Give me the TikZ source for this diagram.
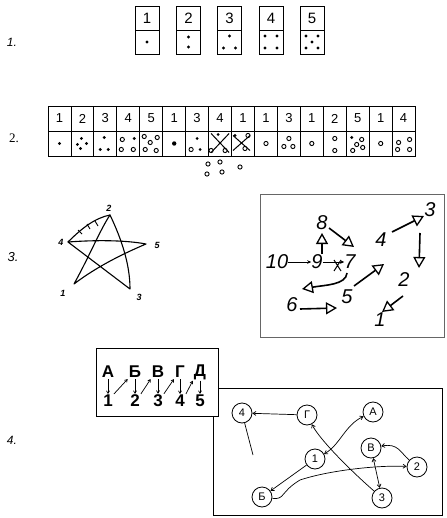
\documentclass[tikz,border=0pt]{standalone}
\usepackage{fontspec}
\setmainfont{Liberation Sans}
\newfontfamily\serifnum{Liberation Serif}
\usetikzlibrary{arrows.meta}
\newcommand\fdt[1]{\fill #1 circle (1.6);}
\newcommand\odt[1]{\draw[line width=0.9pt] #1 circle (2.1);}
\begin{document}
\begin{tikzpicture}[x=1pt,y=-1pt,
  dom/.style={draw,line width=0.9pt,minimum width=24pt,minimum height=24pt,inner sep=0pt,font=\fontsize{15}{15}\selectfont},
  cell/.style={draw,line width=0.8pt,minimum width=22.94pt,minimum height=25pt,inner sep=0pt,font=\fontsize{13}{13}\selectfont},
  seclab/.style={font=\fontsize{12}{12}\selectfont\itshape},
  starlab/.style={font=\fontsize{9}{9}\selectfont\bfseries\itshape,inner sep=0pt},
  hand/.style={font=\fontsize{20}{20}\selectfont\itshape,inner sep=0pt},
  harr/.style={line width=1.6pt,-{Triangle[open,length=11pt,width=12pt,line width=1.3pt]}},
  thinarr/.style={line width=0.8pt,-{Stealth[length=4pt,width=3.5pt]}},
  cyr/.style={font=\fontsize{17}{17}\selectfont\bfseries,inner sep=1pt},
  sarr/.style={line width=0.7pt,-{Straight Barb[length=2.5pt,width=3pt]}},
  circ/.style={circle,draw,line width=0.8pt,minimum size=20pt,inner sep=0pt,font=\fontsize{11}{11}\selectfont,fill=white},
  carr/.style={line width=0.7pt,-{Straight Barb[length=3pt,width=4pt]}},
  carrb/.style={line width=0.7pt,{Straight Barb[length=3pt,width=4pt]}-{Straight Barb[length=3pt,width=4pt]}},
]
\useasboundingbox (0,0) rectangle (446,518);

% ---------- section labels
\node[seclab] (lab1) at (12,42) {1.};
\node[font=\fontsize{13}{13}\selectfont\serifnum] (lab2) at (14,138) {2.};
\node[seclab,font=\fontsize{13}{13}\selectfont\itshape] (lab3) at (13,257) {3.};
\node[seclab] (lab4) at (12,440) {4.};

% ---------- 1. dominoes
\foreach \x/\n in {147/1,188.5/2,229.5/3,271/4,312/5} {
  \node[dom] (dt\n) at (\x,18) {\n};
  \node[dom] (db\n) at (\x,42) {};
}
\fdt{(147,42)}
\fdt{(188.5,37)}\fdt{(188.5,47)}
\fdt{(229.5,36)}\fdt{(223.5,48)}\fdt{(235.5,48)}
\fdt{(265,36)}\fdt{(277,36)}\fdt{(265,48)}\fdt{(277,48)}
\fdt{(306,36)}\fdt{(318,36)}\fdt{(312,42)}\fdt{(306,48)}\fdt{(318,48)}

% ---------- 2. strip
\foreach \n [count=\i from 0] in {1,2,3,4,5,1,3,4,1,1,3,1,2,5,1,4} {
  \node[cell] (st\i) at ({48+22.94*(\i+0.5)},118.5) {\n};
  \node[cell] (sb\i) at ({48+22.94*(\i+0.5)},143.5) {};
}
\begin{scope}[shift={(59.5,143.5)}]\fdt{(0,0)}\end{scope}
\begin{scope}[shift={(82.4,143.5)}]\fdt{(-1,-5)}\fdt{(-5,1)}\fdt{(4,0)}\fdt{(-2,5)}\end{scope}
\begin{scope}[shift={(105.3,143.5)}]\fdt{(-1,-6)}\fdt{(-5,6)}\fdt{(3,6)}\end{scope}
\begin{scope}[shift={(128.3,143.5)}]\odt{(-6,-4)}\fdt{(6,-5)}\odt{(-7,6)}\odt{(5,6)}\end{scope}
\begin{scope}[shift={(151.2,143.5)}]\odt{(-7,-7)}\odt{(6,-6)}\odt{(-1,-1)}\odt{(-6,6)}\odt{(5,7)}\end{scope}
\begin{scope}[shift={(174.2,143.5)}]\fill (0,0) circle (2.2);\end{scope}
\begin{scope}[shift={(197.1,143.5)}]\fdt{(0,-5)}\odt{(-6,6)}\fdt{(3,6)}\end{scope}
\begin{scope}[shift={(220.1,143.5)}]
  \fdt{(-2,-9)}\odt{(-9,7)}\odt{(5,7)}
  \draw[line width=1pt] (-9,-10) -- (9,9) (9,-10) -- (-9,9);
\end{scope}
\begin{scope}[shift={(243.0,143.5)}]
  \fdt{(-8,-8)}\odt{(5,-8)}\odt{(2,5)}
  \draw[line width=1pt] (-10,-8) -- (7,7) (7,-8) -- (-10,7);
\end{scope}
\begin{scope}[shift={(266.0,143.5)}]\odt{(0,0)}\end{scope}
\begin{scope}[shift={(288.9,143.5)}]\odt{(0,-5)}\odt{(-5,3)}\odt{(4,3)}\end{scope}
\begin{scope}[shift={(311.8,143.5)}]\odt{(0,0)}\end{scope}
\begin{scope}[shift={(334.8,143.5)}]\odt{(0,-5)}\odt{(0,7)}\end{scope}
\begin{scope}[shift={(357.7,143.5)}]\fdt{(-6,-6)}\odt{(4,-4)}\odt{(-1,1)}\odt{(5,4)}\odt{(-5,7)}\end{scope}
\begin{scope}[shift={(380.7,143.5)}]\odt{(0,0)}\end{scope}
\begin{scope}[shift={(403.6,143.5)}]\odt{(-5,-1)}\odt{(6,-4)}\odt{(-6,6)}\odt{(6,6)}\end{scope}
\odt{(208,164)}\odt{(220,162)}\odt{(240,167)}\odt{(207,174)}\odt{(222,172)}

% ---------- 3. star
\coordinate (p1) at (74,284);
\coordinate (p2) at (110,215);
\coordinate (p3) at (130,289);
\coordinate (p4) at (68,242);
\coordinate (p5) at (146,244);
\draw[line width=1.1pt,line cap=round,line join=round]
  (p1) .. controls (90,255) and (100,230) .. (p2)
  .. controls (122,240) and (130,265) .. (p3)
  -- (p4)
  .. controls (95,240) and (125,240) .. (p5)
  .. controls (120,255) and (95,268) .. (p1);
\draw[line width=1.1pt,line cap=round] (p4) .. controls (82,228) and (95,218) .. (p2);
\draw[line width=0.9pt] (78,230) -- (82,234) (87,224) -- (90,229) (95,221) -- (98,226);
\node[starlab] (s2) at (109,208) {2};
\node[starlab] (s4) at (61,242) {4};
\node[starlab] (s5) at (157,245) {5};
\node[starlab] (s1) at (63,293) {1};
\node[starlab] (s3) at (139,297) {3};

% ---------- 3. box with arrows
\node[draw=black!60,line width=0.7pt,minimum width=184pt,minimum height=143pt] (box3) at (352,265.5) {};
\node[hand] (n3) at (430,210) {3};
\node[hand] (n4) at (381,240) {4};
\node[hand] (n2) at (404,280) {2};
\node[hand] (n1) at (380,320) {1};
\node[hand] (n5) at (347,297) {5};
\node[hand] (n6) at (292,305) {6};
\node[hand] (n7) at (350,262) {7};
\node[hand] (n8) at (322,223) {8};
\node[hand] (n9) at (317,262) {9};
\node[hand] (n10) at (277,262) {10};
\coordinate (a4s) at (392,232); \coordinate (a4e) at (424,216);
\coordinate (a3s) at (420,233); \coordinate (a3e) at (419,268);
\coordinate (a2s) at (403,296); \coordinate (a2e) at (382,312);
\coordinate (a5s) at (354,286); \coordinate (a5e) at (384,264);
\coordinate (a6s) at (300,309); \coordinate (a6e) at (337,308);
\coordinate (a7s) at (347,273); \coordinate (a7e) at (302,289);
\coordinate (a8s) at (329,228); \coordinate (a8e) at (354,247);
\coordinate (a9s) at (322,254); \coordinate (a9e) at (322,233);
\draw[harr] (a4s) -- (a4e);
\draw[harr] (a3s) -- (a3e);
\draw[harr] (a2s) -- (a2e);
\draw[harr] (a5s) -- (a5e);
\draw[harr] (a6s) -- (a6e);
\draw[harr] (a7s) .. controls (346,285) and (325,285) .. (a7e);
\draw[harr] (a8s) -- (a8e);
\draw[harr] (a9s) -- (a9e);
\draw[thinarr] (n10) -- (n9);
\draw[thinarr] (n9.east) -- (n7.west);
\draw[line width=1pt] (334,260) -- (341,271) (341,260) -- (334,271);

% ---------- 4. lower box with circles (drawn first)
\draw[line width=0.7pt] (213,388) rectangle (442,515);
\node[circ] (c4) at (242,413) {4};
\node[circ] (cG) at (307,415) {Г};
\node[circ] (cA) at (373,412) {А};
\node[circ] (cV) at (371,448) {В};
\node[circ] (c1) at (315,459) {1};
\node[circ] (c2) at (417,467) {2};
\node[circ] (cB) at (262,497) {Б};
\node[circ] (c3) at (382,498) {3};
\coordinate (free4) at (253,455);
\draw[carr] (cG) -- (c4);
\draw[line width=0.7pt] (c4) -- (free4);
\draw[carrb] (c1) .. controls (340,445) and (345,425) .. (cA);
\draw[carr] (c1) -- (cB);
\draw[carr] (c3) .. controls (350,470) and (320,440) .. (cG);
\draw[carrb] (cV) -- (c3);
\draw[carr] (c2) .. controls (400,452) and (398,443) .. (cV);
\draw[carr] (cB) .. controls (285,500) and (280,492) .. (300,480) .. controls (330,470) and (380,465) .. (c2);

% ---------- 4. upper box with letters
\node[draw,fill=white,line width=1pt,minimum width=122pt,minimum height=68pt] (box4) at (157,382) {};
\foreach \x/\l/\d [count=\k] in {108/А/1,135/Б/2,158/В/3,180/Г/4,200/Д/5} {
  \node[cyr] (L\k) at (\x,372) {\l};
  \node[cyr] (D\k) at (\x,401) {\d};
  \draw[sarr] (L\k.south) -- (D\k.north);
}
\draw[sarr] (D1.north east) -- (L2.south west);
\draw[sarr] (D2.north east) -- (L3.south west);
\draw[sarr] (D3.north east) -- (L4.south west);
\draw[sarr] (D4.north east) -- (L5.south west);
\end{tikzpicture}
\end{document}
